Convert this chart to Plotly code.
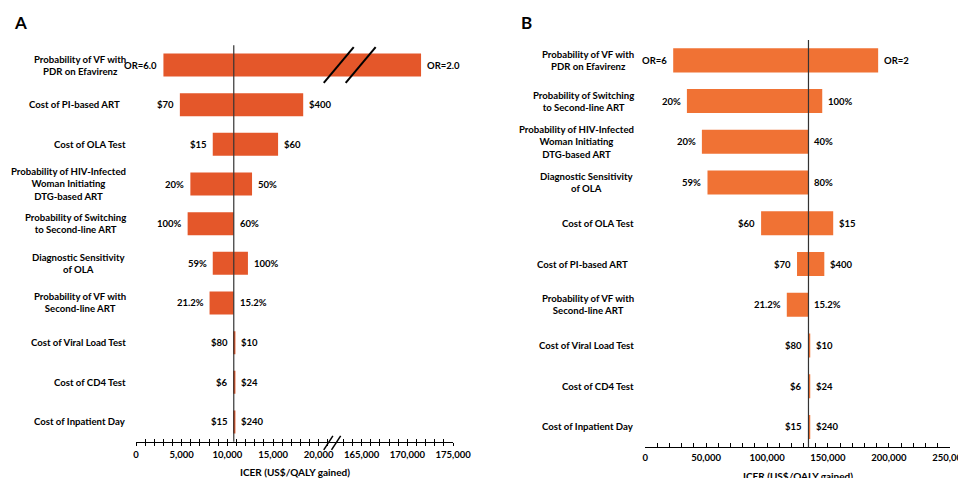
import plotly.graph_objects as go

# ---------------- data ----------------
categories_a = [
    "Probability of VF with<br>PDR on Efavirenz",
    "Cost of PI-based ART\u00a0\u00a0\u00a0",
    "Cost of OLA Test",
    "Probability of HIV-Infected<br>Woman Initiating<br>DTG-based ART",
    "Probability of Switching<br>to Second-line ART",
    "Diagnostic Sensitivity<br>of OLA",
    "Probability of VF with<br>Second-line ART",
    "Cost of Viral Load Test",
    "Cost of CD4 Test",
    "Cost of Inpatient Day",
]
base_a = 10700
lo_a = [3000, 4800, 8400, 5950, 5650, 8400, 8050, 10700, 10700, 10700]
hi_a = [171500, 18300, 15550, 12700, 10700, 12250, 10700, 10880, 10880, 10880]
left_lbl_a = ["OR=6.0", "$70", "$15", "20%", "100%", "59%", "21.2%", "$80", "$6", "$15"]
right_lbl_a = ["OR=2.0", "$400", "$60", "50%", "60%", "100%", "15.2%", "$10", "$24", "$240"]

categories_b = [
    "Probability of VF with<br>PDR on Efavirenz",
    "Probability of Switching<br>to Second-line ART",
    "Probability of HIV-Infected<br>Woman Initiating<br>DTG-based ART",
    "Diagnostic Sensitivity<br>of OLA",
    "Cost of OLA Test",
    "Cost of PI-based ART\u00a0\u00a0\u00a0",
    "Probability of VF with<br>Second-line ART",
    "Cost of Viral Load Test",
    "Cost of CD4 Test",
    "Cost of Inpatient Day",
]
base_b = 134000
lo_b = [22950, 34200, 46500, 51100, 95100, 124600, 116200, 134000, 134000, 134000]
hi_b = [191200, 145300, 134000, 134000, 154300, 147000, 134000, 135400, 135400, 135400]
left_lbl_b = ["OR=6", "20%", "20%", "59%", "$60", "$70", "21.2%", "$80", "$6", "$15"]
right_lbl_b = ["OR=2", "100%", "40%", "80%", "$15", "$400", "15.2%", "$10", "$24", "$240"]

ticks_a_left = list(range(0, 21001, 1000))
ticks_a_right = list(range(163000, 175001, 1000))
labels_a = {0: "0", 5000: "5,000", 10000: "10,000", 15000: "15,000", 20000: "20,000",
            165000: "165,000", 170000: "170,000", 175000: "175,000"}
ticks_b = list(range(0, 250001, 10000))
labels_b = {v: f"{v:,}" for v in range(0, 250001, 50000)}

# broken axis for panel A
BREAK_LO, BREAK_HI, GAP = 21000, 163000, 1700


def T(v):
    return v if v <= BREAK_LO else v - BREAK_HI + BREAK_LO + GAP


COL_A = "#E4572A"
COL_B = "#F07234"
FONT = "Lato"
# the page is shown with a body margin and slightly narrowed horizontally
OFF_X = 9.8
OFF_Y = 8
SX = 0.98
FW, FH = 978, 470


def px_x(p):
    return ((p - OFF_X) / SX) / FW


def px_y(p):
    return 1 - (p - OFF_Y) / FH


fig = go.Figure()

# panel A bars
fig.add_trace(go.Bar(
    y=categories_a, x=[T(h) - T(l) for l, h in zip(lo_a, hi_a)], base=[T(l) for l in lo_a],
    orientation="h", width=0.58, marker=dict(color=COL_A, line=dict(width=0)),
    xaxis="x", yaxis="y", hoverinfo="skip"))
# invisible trace so the overlay axis (upper half of crossing ticks) is drawn
fig.add_trace(go.Scatter(x=[0], y=[categories_a[0]], mode="markers",
                         marker=dict(opacity=0, size=1), xaxis="x3", yaxis="y",
                         hoverinfo="skip"))
# panel B bars
fig.add_trace(go.Bar(
    y=categories_b, x=[h - l for l, h in zip(lo_b, hi_b)], base=lo_b,
    orientation="h", width=0.59, marker=dict(color=COL_B, line=dict(width=0)),
    xaxis="x2", yaxis="y2", hoverinfo="skip"))

dom_ax = [px_x(135), px_x(452.5)]
dom_ay = [px_y(441.8), px_y(45.2)]
dom_bx = [px_x(645), px_x(950)]
dom_by = [px_y(447.3), px_y(40)]

tv_a = [T(v) for v in ticks_a_left + ticks_a_right]
tt_a = [f"<b>{labels_a[v]}</b>" if v in labels_a else "" for v in ticks_a_left + ticks_a_right]
tt_b = [f"<b>{labels_b[v]}</b>" if v in labels_b else "" for v in ticks_b]

fig.update_layout(
    width=FW, height=FH, margin=dict(l=0, r=0, t=0, b=0),
    paper_bgcolor="white", plot_bgcolor="white", showlegend=False,
    font=dict(family=FONT, color="black"),
    xaxis=dict(domain=dom_ax, anchor="y", range=[0, T(175000)], tickmode="array",
               tickvals=tv_a, ticktext=tt_a, ticks="outside", ticklen=3, tickwidth=1,
               tickcolor="black", showline=True, linecolor="black", linewidth=1,
               showgrid=False, zeroline=False, ticklabelstandoff=1,
               tickfont=dict(size=9.5, family=FONT)),
    xaxis3=dict(overlaying="x", anchor="y", range=[0, T(175000)], tickmode="array",
                tickvals=tv_a, ticks="inside", ticklen=3, tickwidth=1, tickcolor="black",
                showticklabels=False, showline=False, showgrid=False, zeroline=False),
    yaxis=dict(domain=dom_ay, anchor="x", type="category", categoryorder="array",
               categoryarray=categories_a, range=[9.5, -0.5], showticklabels=False,
               showgrid=False, zeroline=False, showline=False, ticks=""),
    xaxis2=dict(domain=dom_bx, anchor="y2", range=[0, 250000], tickmode="array",
                tickvals=ticks_b, ticktext=tt_b, ticks="inside", ticklen=4, tickwidth=1,
                tickcolor="black", showline=True, linecolor="black", linewidth=1,
                showgrid=False, zeroline=False, ticklabelstandoff=1,
                tickfont=dict(size=9.5, family=FONT)),
    yaxis2=dict(domain=dom_by, anchor="x2", type="category", categoryorder="array",
                categoryarray=categories_b, range=[9.5, -0.5], showticklabels=False,
                showgrid=False, zeroline=False, showline=False, ticks=""),
)

ann = []
shapes = []

# category labels
for cats, xr, yr in ((categories_a, px_x(126.5), "y"), (categories_b, px_x(636), "y2")):
    for c in cats:
        ann.append(dict(x=xr, xref="paper", y=c, yref=yr, xanchor="right", yanchor="middle",
                        align="center", showarrow=False, text=f"<b>{c}</b>",
                        font=dict(size=9.6, family=FONT, color="black")))

# value labels
for cats, lo, hi, ll, rl, xr, yr, f in (
        (categories_a, lo_a, hi_a, left_lbl_a, right_lbl_a, "x", "y", T),
        (categories_b, lo_b, hi_b, left_lbl_b, right_lbl_b, "x2", "y2", lambda v: v)):
    for c, l, h, a, b in zip(cats, lo, hi, ll, rl):
        ann.append(dict(x=f(l), xref=xr, y=c, yref=yr, xanchor="right", yanchor="middle",
                        xshift=-4, showarrow=False, text=f"<b>{a}</b>",
                        font=dict(size=9.5, family=FONT, color="black")))
        ann.append(dict(x=f(h), xref=xr, y=c, yref=yr, xanchor="left", yanchor="middle",
                        xshift=4, showarrow=False, text=f"<b>{b}</b>",
                        font=dict(size=9.5, family=FONT, color="black")))

# baseline ICER lines
shapes.append(dict(type="line", xref="x", yref="y domain", x0=T(base_a), x1=T(base_a),
                   y0=0, y1=1, line=dict(color="#333333", width=1.2)))
shapes.append(dict(type="line", xref="x2", yref="y2 domain", x0=base_b, x1=base_b,
                   y0=0, y1=1, line=dict(color="#333333", width=1.2)))

# break marks on the first bar of panel A
for cx in (22190, 24590):
    shapes.append(dict(type="line", xref="x", yref="y", x0=cx - 1640, x1=cx + 1640,
                       y0=0.45, y1=-0.45, line=dict(color="black", width=2)))
# break marks on axis A
px_dom = (441.8 - 45.2)
for cx in (21050, 21900):
    shapes.append(dict(type="line", xref="x", yref="y domain", x0=cx - 500, x1=cx + 500,
                       y0=-8 / px_dom, y1=6 / px_dom, line=dict(color="black", width=1.5)))

# axis titles and panel letters
ann.append(dict(x=sum(dom_ax) / 2, xref="paper", y=px_y(471.5), yref="paper",
                xanchor="center", yanchor="middle", showarrow=False,
                text="<b>ICER (US$/QALY gained)</b>",
                font=dict(size=10, family=FONT, color="black")))
ann.append(dict(x=sum(dom_bx) / 2, xref="paper", y=px_y(476), yref="paper",
                xanchor="center", yanchor="middle", showarrow=False,
                text="<b>ICER (US$/QALY gained)</b>",
                font=dict(size=10, family=FONT, color="black")))
ann.append(dict(x=px_x(19), xref="paper", y=px_y(23), yref="paper", xanchor="center",
                yanchor="middle", showarrow=False,
                text="<b>A</b>", font=dict(size=17, family=FONT, color="black")))
ann.append(dict(x=px_x(526), xref="paper", y=px_y(23), yref="paper", xanchor="center",
                yanchor="middle", showarrow=False,
                text="<b>B</b>", font=dict(size=17, family=FONT, color="black")))

fig.update_layout(annotations=ann, shapes=shapes)
fig.write_html("out.html")
